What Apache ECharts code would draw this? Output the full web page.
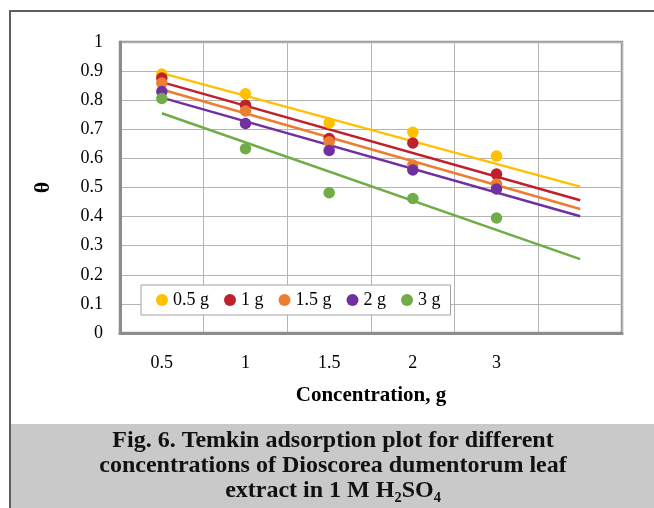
<!DOCTYPE html>
<html><head><meta charset="utf-8">
<script src="https://cdn.jsdelivr.net/npm/echarts@6/dist/echarts.min.js"></script>
<style>html,body{margin:0;padding:0;background:#fff}#c{width:654px;height:508px}</style>
</head><body><div id="c"></div>
<script>
const categories = ['0.5', '1', '1.5', '2', '3', ''];
const seriesNames = ['0.5 g', '1 g', '1.5 g', '2 g', '3 g'];
const colors = ['#FFC000', '#C0202A', '#ED7D31', '#7030A0', '#70AD47'];
const s05 = [0.890, 0.822, 0.722, 0.690, 0.608];
const s1  = [0.876, 0.783, 0.668, 0.653, 0.546];
const s15 = [0.859, 0.763, 0.657, 0.577, 0.512];
const s2  = [0.830, 0.720, 0.627, 0.560, 0.495];
const s3  = [0.806, 0.633, 0.482, 0.462, 0.395];
const trendStart = [0.893, 0.862, 0.837, 0.809, 0.755];
const trendEnd   = [0.503, 0.456, 0.426, 0.401, 0.254];
const yTicks = ['0','0.1','0.2','0.3','0.4','0.5','0.6','0.7','0.8','0.9','1'];
const captionLines = ['Fig. 6. Temkin adsorption plot for different', 'concentrations of Dioscorea dumentorum leaf', 'extract in 1 M H\u2082SO\u2084'];

const values = [s05, s1, s15, s2, s3];
const serif = '"Liberation Serif", "DejaVu Serif", serif';
const series = [];
values.forEach((v, i) => {
  const d = categories.map((c, j) => j === 0 ? trendStart[i] : (j === categories.length - 1 ? trendEnd[i] : null));
  series.push({
    name: 'trend' + i, type: 'line', data: d, connectNulls: true, symbol: 'none',
    lineStyle: { color: colors[i], width: 2.5 }, silent: true, z: 2
  });
});
values.forEach((v, i) => {
  series.push({
    name: seriesNames[i], type: 'scatter', data: v, symbol: 'circle', symbolSize: 11.5,
    itemStyle: { color: colors[i], opacity: 1 }, z: 3
  });
});

const chart = echarts.init(document.getElementById('c'));
chart.setOption({
  animation: false,
  backgroundColor: '#fff',
  color: colors,
  grid: { left: 120, right: 32, top: 42, bottom: 175, show: true, borderColor: '#9a9a9a', borderWidth: 2.5 },
  xAxis: {
    type: 'category', data: categories, boundaryGap: true,
    axisLine: { lineStyle: { color: '#8c8c8c', width: 3 } },
    axisTick: { show: false },
    axisLabel: { color: '#000', fontFamily: serif, fontSize: 18, margin: 21 },
    splitLine: { show: true, interval: 0, lineStyle: { color: '#b4b4b4', width: 1 } },
    name: 'Concentration, g', nameLocation: 'middle', nameGap: 52,
    nameTextStyle: { color: '#000', fontFamily: serif, fontSize: 21, fontWeight: 'bold' }
  },
  yAxis: {
    type: 'value', min: 0, max: 1, interval: 0.1,
    axisLine: { show: true, lineStyle: { color: '#8c8c8c', width: 3 } },
    axisTick: { show: false },
    axisLabel: { color: '#000', fontFamily: serif, fontSize: 18, margin: 17,
      formatter: (val) => yTicks[Math.round(val * 10)] },
    splitLine: { show: true, lineStyle: { color: '#b4b4b4', width: 1 } },
    name: '\u03B8', nameLocation: 'middle', nameGap: 66, nameRotate: 90,
    nameTextStyle: { color: '#000', fontFamily: serif, fontSize: 22, fontWeight: 'bold' }
  },
  legend: {
    data: seriesNames, left: 141, top: 285, orient: 'horizontal',
    icon: 'circle', itemWidth: 12, itemHeight: 12, itemGap: 15,
    padding: [6, 10, 6, 15], backgroundColor: '#fff', borderColor: '#a0a0a0', borderWidth: 1,
    textStyle: { color: '#000', fontFamily: serif, fontSize: 18 }
  },
  graphic: [
    { type: 'rect', z: -10, shape: { x: 11, y: 424, width: 660, height: 100 }, style: { fill: '#c9c9c9' } },
    { type: 'rect', z: 100, shape: { x: 10, y: 11, width: 700, height: 600 }, style: { fill: 'none', stroke: '#5f5f5f', lineWidth: 2 } },
    { type: 'text', z: 101, x: 333, y: 428, style: {
        text: captionLines.join('\n'), textAlign: 'center', textVerticalAlign: 'top', fill: '#111',
        font: 'bold 24px ' + serif, lineHeight: 25 } }
  ],
  series: series
});
</script></body></html>
